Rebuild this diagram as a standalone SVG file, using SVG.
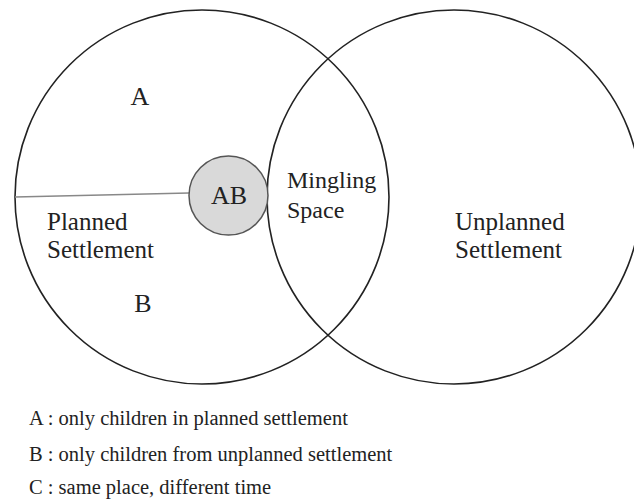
<svg xmlns="http://www.w3.org/2000/svg" width="634" height="502" viewBox="0 0 634 502">
<style>
.ring{fill:none;stroke:#222;stroke-width:1.6}
.t{font-family:"Liberation Serif","Times New Roman",serif;fill:#222}
.big{font-size:26px}
.lbl{font-size:25px}
.leg{font-size:20.5px}
</style>
<rect width="634" height="502" fill="#fff"/>
<g id="planned">
<ellipse class="ring" cx="202" cy="197" rx="187" ry="187"/>
<text class="t big" x="140" y="105" text-anchor="middle">A</text>
<text class="t big" x="143" y="312" text-anchor="middle">B</text>
<text class="t lbl" x="47" y="230">Planned</text>
<text class="t lbl" x="47" y="258">Settlement</text>
</g>
<g id="unplanned">
<ellipse class="ring" cx="454" cy="197" rx="187" ry="187"/>
<text class="t lbl" x="455" y="230">Unplanned</text>
<text class="t lbl" x="455" y="258">Settlement</text>
</g>
<g id="mingling">
<text class="t" font-size="24" x="287" y="188">Mingling</text>
<text class="t" font-size="24" x="287" y="218">Space</text>
</g>
<g id="connectors">
<line x1="15" y1="197" x2="189" y2="193" stroke="#888" stroke-width="1.5"/>
</g>
<g id="ab">
<circle cx="228.5" cy="195.5" r="39.5" fill="#d9d9d9" stroke="#555" stroke-width="1.5"/>
<text class="t big" x="229" y="204" text-anchor="middle">AB</text>
</g>
<g id="legend">
<text class="t leg" x="29" y="425">A : only children in planned settlement</text>
<text class="t leg" x="29" y="461">B : only children from unplanned settlement</text>
<text class="t leg" x="29" y="494">C : same place, different time</text>
</g>
</svg>
